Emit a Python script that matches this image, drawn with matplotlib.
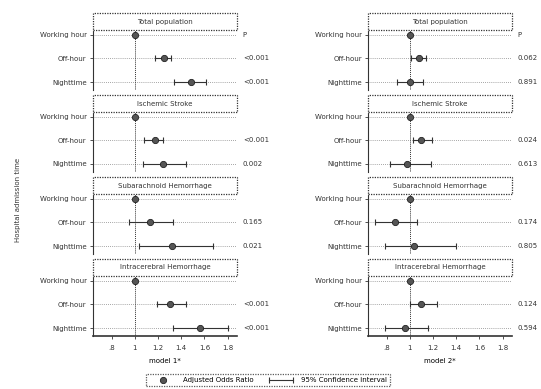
import matplotlib
matplotlib.use('Agg')

import matplotlib.pyplot as plt
import matplotlib.transforms as mtransforms
from matplotlib.patches import Rectangle
from matplotlib.lines import Line2D
from matplotlib.legend_handler import HandlerLine2D

# Data
groups = ["Total population", "Ischemic Stroke",
          "Subarachnoid Hemorrhage", "Intracerebral Hemorrhage"]
periods = ["Working hour", "Off-hour", "Nighttime"]

m1_or = [[1, 1.25, 1.48], [1, 1.17, 1.24], [1, 1.13, 1.32], [1, 1.30, 1.56]]
m1_lo = [[1, 1.17, 1.34], [1, 1.08, 1.07], [1, 0.95, 1.04], [1, 1.19, 1.33]]
m1_hi = [[1, 1.31, 1.61], [1, 1.24, 1.44], [1, 1.33, 1.67], [1, 1.44, 1.80]]
m1_p = [["P", "<0.001", "<0.001"], ["", "<0.001", "0.002"],
        ["", "0.165", "0.021"], ["", "<0.001", "<0.001"]]

m2_or = [[1, 1.08, 1.00], [1, 1.10, 0.98], [1, 0.87, 1.04], [1, 1.10, 0.96]]
m2_lo = [[1, 1.01, 0.89], [1, 1.03, 0.83], [1, 0.70, 0.79], [1, 1.00, 0.79]]
m2_hi = [[1, 1.14, 1.11], [1, 1.19, 1.18], [1, 1.06, 1.40], [1, 1.23, 1.16]]
m2_p = [["P", "0.062", "0.891"], ["", "0.024", "0.613"],
        ["", "0.174", "0.805"], ["", "0.124", "0.594"]]

xticks = [0.8, 1, 1.2, 1.4, 1.6, 1.8]
xticklabels = [".8", "1", "1.2", "1.4", "1.6", "1.8"]

W, H = 541, 389
fig = plt.figure(figsize=(W / 100, H / 100), dpi=100)

fs = 5
dark = "#333333"


def draw_column(x0, ors, los, his, ps, xlabel):
    for i, g in enumerate(groups):
        top = 30 + 82 * i
        ax = fig.add_axes([x0 / W, 1 - (top + 60) / H, 144 / W, 60 / H])
        ys = list(range(len(periods)))
        # horizontal dotted guides and reference line
        for y in ys:
            ax.axhline(y, color="#888888", lw=0.6, ls=(0, (1, 1.5)), zorder=1)
        ax.axvline(1, color=dark, lw=0.7, ls=(0, (1, 1)), zorder=1)
        xerr = [[o - l for o, l in zip(ors[i], los[i])],
                [h - o for o, h in zip(ors[i], his[i])]]
        ax.errorbar(ors[i], ys, xerr=xerr, fmt="none", ecolor=dark,
                    elinewidth=0.8, capsize=2, capthick=0.8, zorder=2)
        ax.plot(ors[i], ys, "o", ms=4.5, mfc="#555555", mec="#222222",
                mew=0.6, zorder=3)
        ax.set_xlim(0.64, 1.88)
        ax.set_ylim(2.34, -0.21)
        ax.set_yticks(ys)
        ax.set_yticklabels(periods, fontsize=fs)
        ax.tick_params(axis="y", length=2.5, width=0.6, pad=2, colors=dark)
        ax.set_xticks(xticks)
        for s in ["top", "right", "bottom"]:
            ax.spines[s].set_visible(False)
        ax.spines["left"].set_linestyle((0, (1, 1)))
        ax.spines["left"].set_linewidth(0.8)
        ax.spines["left"].set_color(dark)
        if i == len(groups) - 1:
            ax.spines["bottom"].set_visible(True)
            ax.spines["bottom"].set_linestyle((0, (1, 1)))
            ax.spines["bottom"].set_linewidth(1.2)
            ax.spines["bottom"].set_color(dark)
            ax.set_xticklabels(xticklabels, fontsize=fs)
            ax.tick_params(axis="x", length=2.5, width=0.6, pad=4, colors=dark)
            ax.set_xlabel(xlabel, fontsize=fs, labelpad=5)
        else:
            ax.tick_params(axis="x", length=0, labelbottom=False)
        # p-values to the right
        trans = mtransforms.blended_transform_factory(ax.transAxes, ax.transData)
        for y, p in zip(ys, ps[i]):
            ax.text(1.04, y, p, transform=trans, fontsize=fs, va="center",
                    ha="left", color=dark)
        # strip header
        hdr = Rectangle((0, 1), 1, 17 / 60, transform=ax.transAxes,
                        fill=False, ec=dark, lw=0.9, ls=(0, (1, 1)),
                        clip_on=False)
        ax.add_patch(hdr)
        ax.text(0.5, 1 + 8.5 / 60, g, transform=ax.transAxes, fontsize=fs,
                ha="center", va="center", color=dark)


draw_column(93, m1_or, m1_lo, m1_hi, m1_p, "model 1*")
draw_column(368, m2_or, m2_lo, m2_hi, m2_p, "model 2*")

fig.text(18 / W, 1 - 200 / H, "Hospital admission time", rotation=90,
         fontsize=fs, ha="center", va="center", color=dark)

# legend
h1 = Line2D([], [], ls="none", marker="o", ms=4.5, mfc="#555555",
            mec="#222222", mew=0.6)
h2 = Line2D([], [], color=dark, lw=0.8, marker="|", ms=4, mew=0.8)
leg = fig.legend([h1, h2], ["Adjusted Odds Ratio", "95% Confidence interval"],
                 loc="center", bbox_to_anchor=(268 / W, 1 - 380 / H),
                 ncol=2, fontsize=fs, frameon=True, fancybox=False,
                 handlelength=4, columnspacing=2, borderpad=0.5,
                 handler_map={h1: HandlerLine2D(numpoints=1),
                              h2: HandlerLine2D(numpoints=2)})
leg.get_frame().set_edgecolor(dark)
leg.get_frame().set_linestyle((0, (1, 1)))
leg.get_frame().set_linewidth(0.9)

fig.savefig("out.png", dpi=100)
